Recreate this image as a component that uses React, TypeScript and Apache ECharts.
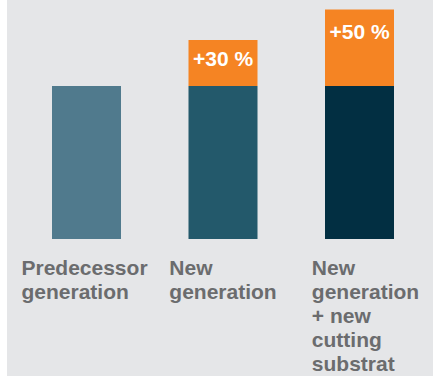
import React, { useEffect, useRef } from "react";
import * as echarts from "echarts";

const categories = [
  "Predecessor\ngeneration",
  "New\ngeneration",
  "New\ngeneration\n+ new\ncutting\nsubstrat",
];
const baseValues = [100, 100, 100];
const increaseValues = [0, 30, 50];
const increaseLabels = ["", "+30 %", "+50 %"];
const barColors = ["#507a8d", "#23596b", "#022f42"];
const orange = "#f58423";

const FONT = "'Liberation Sans', Arial, Helvetica, sans-serif";

export default function App() {
  const ref = useRef<HTMLDivElement>(null);
  useEffect(() => {
    if (!ref.current) return;
    const chart = echarts.init(ref.current, null, { renderer: "svg" });
    const labelShift = [[0, 4, 0, 0], [0, 0, 0, 0], [0, 0, 0, 12]];
    const labelDistance = [8, 8, 11];
    chart.setOption({
      animation: false,
      backgroundColor: "#e5e6e8",
      grid: {
        left: 11.25,
        right: 5.25,
        top: 9.5,
        bottom: 137,
        outerBoundsMode: "none",
        containLabel: false,
      },
      xAxis: {
        type: "category",
        data: categories.map((c, i) => ({
          value: c,
          textStyle: { padding: labelShift[i] },
        })),
        axisLine: { show: false },
        axisTick: { show: false },
        axisLabel: {
          interval: 0,
          margin: 16,
          hideOverlap: false,
          formatter: (v: string) =>
            v
              .split("\n")
              .map((l) => `{a|${l}}`)
              .join("\n"),
          rich: {
            a: {
              align: "left",
              fontFamily: FONT,
              fontSize: 21,
              fontWeight: "bold",
              color: "#6b6c6e",
              lineHeight: 24,
            },
          },
        },
      },
      yAxis: {
        type: "value",
        min: 0,
        max: 150,
        show: false,
        splitLine: { show: false },
      },
      series: [
        {
          type: "bar",
          stack: "total",
          barWidth: 69,
          data: baseValues.map((v, i) => ({
            value: v,
            itemStyle: { color: barColors[i] },
          })),
        },
        {
          type: "bar",
          stack: "total",
          barWidth: 69,
          itemStyle: { color: orange },
          data: increaseValues.map((v, i) => ({
            value: v,
            label: { distance: labelDistance[i] },
          })),
          label: {
            show: true,
            position: "insideTop",
            color: "#ffffff",
            fontFamily: FONT,
            fontSize: 21,
            fontWeight: "bold",
            formatter: (p: any) => increaseLabels[p.dataIndex],
          },
        },
      ],
    });
    return () => chart.dispose();
  }, []);
  return (
    <div
      ref={ref}
      style={{
        position: "absolute",
        left: 7,
        top: 0,
        width: 426,
        height: 376,
        background: "#e5e6e8",
      }}
    />
  );
}
